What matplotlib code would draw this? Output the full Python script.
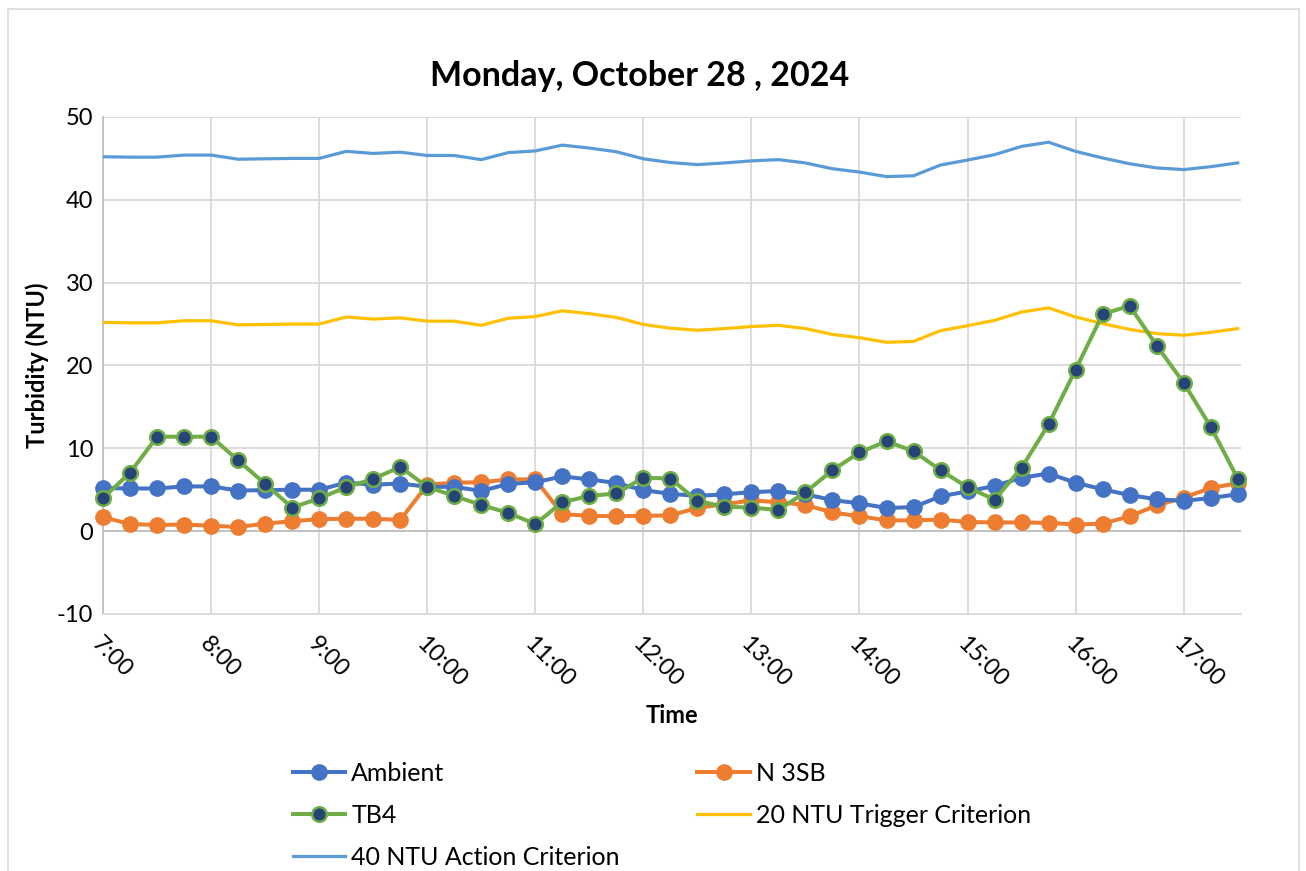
import numpy as np
import matplotlib
matplotlib.use('Agg')
from matplotlib import pyplot as plt
from matplotlib.patches import Rectangle

plt.rcParams['font.family'] = ['Lato', 'DejaVu Sans']
plt.rcParams['axes.unicode_minus'] = False

# times in hours, 7:00 .. 17:30 every 15 min
times = np.arange(7.0, 17.51, 0.25)
tick_hours = [7, 8, 9, 10, 11, 12, 13, 14, 15, 16, 17]
tick_labels = ['7:00', '8:00', '9:00', '10:00', '11:00', '12:00', '13:00',
               '14:00', '15:00', '16:00', '17:00']

ambient = [5.2, 5.15, 5.15, 5.4, 5.4, 4.9, 4.95, 5.0, 5.0, 5.85, 5.6, 5.75,
           5.35, 5.35, 4.85, 5.7, 5.9, 6.6, 6.25, 5.8, 4.95, 4.5, 4.25, 4.45,
           4.7, 4.85, 4.45, 3.75, 3.35, 2.8, 2.9, 4.2, 4.8, 5.45, 6.45, 6.95,
           5.85, 5.05, 4.35, 3.85, 3.65, 4.0, 4.45]
n3sb = [1.7, 0.85, 0.75, 0.8, 0.65, 0.5, 0.9, 1.2, 1.45, 1.5, 1.5, 1.35,
        5.6, 5.85, 5.9, 6.25, 6.25, 2.05, 1.85, 1.8, 1.85, 1.9, 2.8, 3.25,
        3.7, 3.5, 3.15, 2.25, 1.8, 1.3, 1.3, 1.4, 1.1, 1.05, 1.05, 1.0,
        0.8, 0.9, 1.8, 3.1, 4.05, 5.2, 5.8]
tb4 = [4.0, 7.05, 11.4, 11.4, 11.4, 8.55, 5.7, 2.85, 3.95, 5.3, 6.3, 7.75,
       5.35, 4.25, 3.15, 2.2, 0.85, 3.5, 4.25, 4.55, 6.45, 6.35, 3.65, 2.95,
       2.85, 2.55, 4.7, 7.35, 9.5, 10.85, 9.65, 7.35, 5.3, 3.8, 7.65, 12.9,
       19.5, 26.2, 27.2, 22.4, 17.9, 12.6, 6.35]
trigger = [25.2, 25.15, 25.15, 25.4, 25.4, 24.9, 24.95, 25.0, 25.0, 25.85, 25.6, 25.75,
           25.35, 25.35, 24.85, 25.7, 25.9, 26.6, 26.25, 25.8, 24.95, 24.5, 24.25, 24.45,
           24.7, 24.85, 24.45, 23.75, 23.35, 22.8, 22.9, 24.2, 24.8, 25.45, 26.45, 26.95,
           25.85, 25.05, 24.35, 23.85, 23.65, 24.0, 24.45]
action = [45.2, 45.15, 45.15, 45.4, 45.4, 44.9, 44.95, 45.0, 45.0, 45.85, 45.6, 45.75,
          45.35, 45.35, 44.85, 45.7, 45.9, 46.6, 46.25, 45.8, 44.95, 44.5, 44.25, 44.45,
          44.7, 44.85, 44.45, 43.75, 43.35, 42.8, 42.9, 44.2, 44.8, 45.45, 46.45, 46.95,
          45.85, 45.05, 44.35, 43.85, 43.65, 44.0, 44.45]

fig = plt.figure(figsize=(13.06, 8.71), dpi=100)
ax = fig.add_axes([0.0789, 0.2951, 0.8713, 0.5706])

l1, = ax.plot(times, ambient, color='#4472C4', lw=2.9, marker='o', ms=11,
              mec='#4472C4', mfc='#4472C4', clip_on=False, zorder=5, label='Ambient')
l2, = ax.plot(times, n3sb, color='#ED7D31', lw=2.9, marker='o', ms=11,
              mec='#ED7D31', mfc='#ED7D31', clip_on=False, zorder=4, label='N 3SB')
l3, = ax.plot(times, tb4, color='#70AD47', lw=2.9, marker='o', ms=10.5,
              mec='#70AD47', mfc='#264478', mew=1.8, clip_on=False, zorder=6, label='TB4')
l4, = ax.plot(times, trigger, color='#FFC000', lw=2.3, zorder=3,
              label='20 NTU Trigger Criterion')
l5, = ax.plot(times, action, color='#5B9BD5', lw=2.3, zorder=3,
              label='40 NTU Action Criterion')

ax.set_xlim(7.0, 17.53)
ax.set_ylim(-10, 50)
ax.set_yticks([-10, 0, 10, 20, 30, 40, 50])
ax.set_xticks(tick_hours)
ax.set_xticklabels(tick_labels, rotation=-45, ha='left', rotation_mode='anchor')
ax.tick_params(axis='both', length=0, labelsize=17, colors='#000000')
ax.tick_params(axis='x', pad=14)
ax.tick_params(axis='y', pad=7)
ax.grid(True, color='#D9D9D9', lw=1.3)
ax.set_axisbelow(True)
for s in ['top', 'right']:
    ax.spines[s].set_visible(False)
ax.spines['bottom'].set_color('#D9D9D9')
ax.spines['bottom'].set_linewidth(1.3)
ax.spines['left'].set_color('#BFBFBF')
ax.spines['left'].set_linewidth(1.3)
ax.axhline(0, color='#BFBFBF', lw=1.3, zorder=1)

ax.set_xlabel('Time', fontsize=17, fontweight='bold', labelpad=9)
ax.set_ylabel('Turbidity (NTU)', fontsize=17, fontweight='bold', labelpad=6)
fig.text(0.49, 0.913, 'Monday, October 28 , 2024', ha='center', va='center',
         fontsize=24.5, fontweight='bold')

fig.legend(handles=[l1, l3, l5, l2, l4], loc='upper left',
           bbox_to_anchor=(0.224, 0.125), ncol=2, frameon=False, fontsize=18,
           handlelength=2.1, handletextpad=0.25, columnspacing=3.1,
           labelspacing=0.75, borderpad=0, borderaxespad=0)

fig.patches.append(Rectangle((0.006, -0.01), 0.989, 1.0, transform=fig.transFigure,
                             fill=False, edgecolor='#D9D9D9', lw=1.2))

fig.savefig('out.png', dpi=100)
